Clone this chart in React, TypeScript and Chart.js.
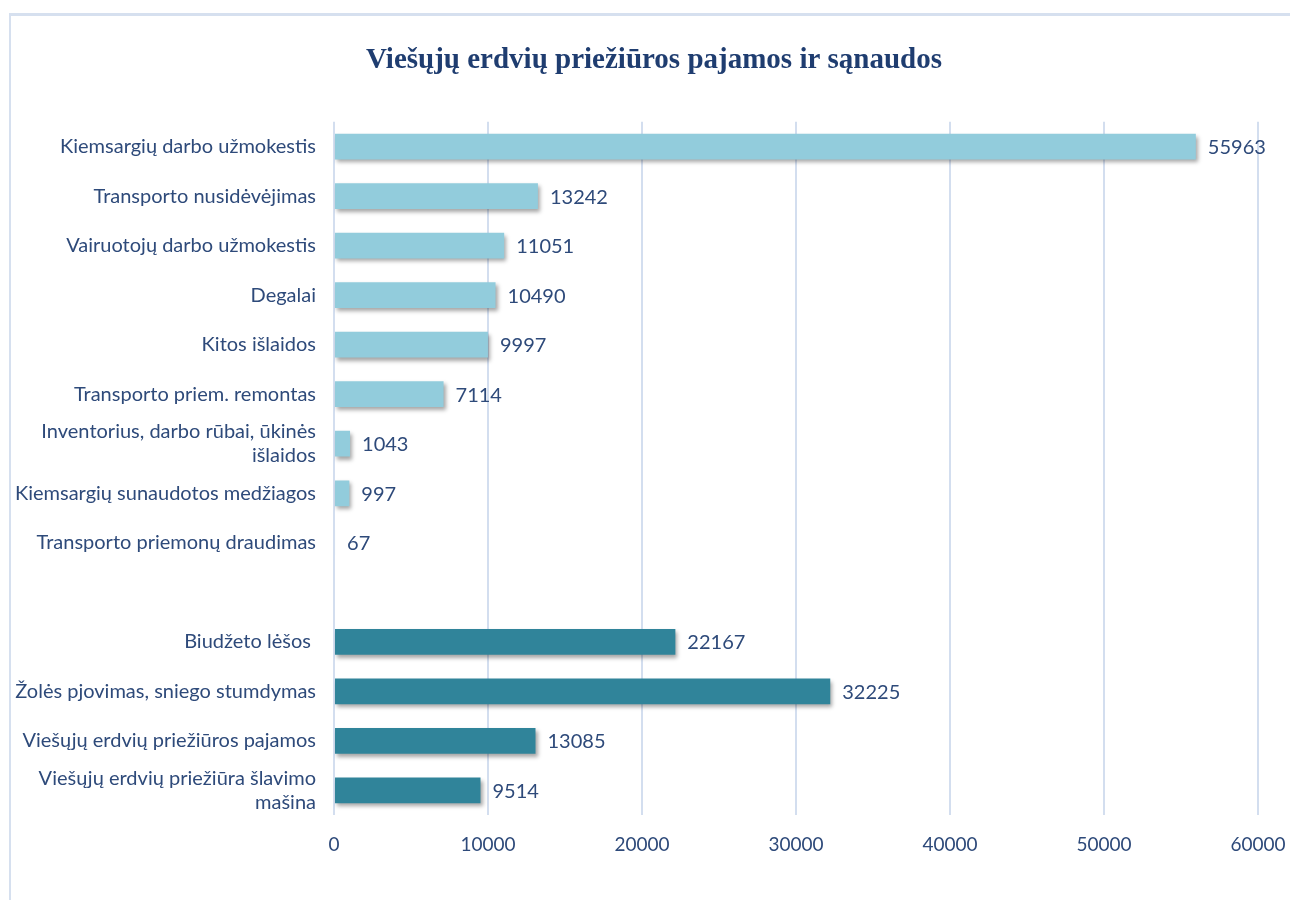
import React, { useEffect, useRef } from "react";
import { Chart, registerables } from "chart.js";

Chart.register(...registerables);

const categories: (string | string[])[] = [
  "Kiemsargių darbo užmokestis",
  "Transporto nusidėvėjimas",
  "Vairuotojų darbo užmokestis",
  "Degalai",
  "Kitos išlaidos",
  "Transporto priem. remontas",
  ["Inventorius, darbo rūbai, ūkinės", "išlaidos"],
  "Kiemsargių sunaudotos medžiagos",
  "Transporto priemonų draudimas",
  "",
  "Biudžeto lėšos ",
  "Žolės pjovimas, sniego stumdymas",
  "Viešųjų erdvių priežiūros pajamos",
  ["Viešųjų erdvių priežiūra šlavimo", "mašina"],
];

const values: (number | null)[] = [
  55963, 13242, 11051, 10490, 9997, 7114, 1043, 997, 67, null, 22167, 32225, 13085, 9514,
];

const expenseColor = "#92CCDC";
const incomeColor = "#30849A";
const barColors = values.map((_, i) => (i < 9 ? expenseColor : incomeColor));

const titleText = "Viešųjų erdvių priežiūros pajamos ir sąnaudos";
const xMin = 0;
const xMax = 60000;
const xStep = 10000;

const textColor = "#2E4A7A";
const titleColor = "#1F3D70";
const gridColor = "#D3DEEF";
const labelFont = "Lato, 'Open Sans', sans-serif";

export default function App() {
  const ref = useRef<HTMLCanvasElement | null>(null);

  useEffect(() => {
    if (!ref.current) return;

    const shadowPlugin = {
      id: "barShadow",
      beforeDatasetsDraw(chart: any) {
        const ctx = chart.ctx;
        ctx.save();
        ctx.shadowColor = "rgba(0,0,0,0.35)";
        ctx.shadowBlur = 4;
        ctx.shadowOffsetX = 2;
        ctx.shadowOffsetY = 3;
      },
      afterDatasetsDraw(chart: any) {
        chart.ctx.restore();
      },
    };

    const titleShift = {
      id: "titleShift",
      afterLayout(chart: any) {
        const tb = chart.titleBlock;
        if (tb) {
          tb.left = 50;
          tb.right = 1258;
        }
      },
    };

    const valueLabels = {
      id: "valueLabels",
      afterDraw(chart: any) {
        const ctx = chart.ctx;
        const meta = chart.getDatasetMeta(0);
        ctx.save();
        ctx.font = `20px ${labelFont}`;
        ctx.fillStyle = textColor;
        ctx.textAlign = "left";
        ctx.textBaseline = "middle";
        meta.data.forEach((bar: any, i: number) => {
          const v = values[i];
          if (v === null || v === undefined) return;
          ctx.fillText(String(v), bar.x + 12, bar.y + 1);
        });
        ctx.restore();
      },
    };

    const chart = new Chart(ref.current, {
      type: "bar",
      data: {
        labels: categories,
        datasets: [
          {
            data: values,
            backgroundColor: barColors,
            borderWidth: 0,
            categoryPercentage: 1,
            barPercentage: 0.52,
          },
        ],
      },
      options: {
        indexAxis: "y",
        animation: false,
        responsive: false,
        maintainAspectRatio: false,
        layout: { padding: { left: 2, right: 32, top: 0, bottom: 26 } },
        plugins: {
          legend: { display: false },
          tooltip: { enabled: false },
          title: {
            display: true,
            text: titleText,
            color: titleColor,
            font: { family: "'Liberation Serif', serif", size: 29, weight: "bold" },
            padding: { top: 43, bottom: 44 },
          },
        },
        scales: {
          x: {
            min: xMin,
            max: xMax,
            afterFit(scale: any) {
              scale.paddingLeft = 0;
              scale.paddingRight = 0;
            },
            ticks: {
              stepSize: xStep,
              color: textColor,
              font: { family: labelFont, size: 19 },
              padding: 18,
              callback: (v: any) => String(v),
            },
            grid: { color: gridColor, lineWidth: 2, drawTicks: false },
            border: { display: false },
          },
          y: {
            afterFit(scale: any) {
              scale.width = 332;
            },
            ticks: {
              color: textColor,
              font: { family: labelFont, size: 20 },
              padding: 18,
              autoSkip: false,
            },
            grid: { display: false, drawTicks: false },
            border: { display: false },
          },
        },
      },
      plugins: [shadowPlugin, titleShift, valueLabels],
    });

    return () => chart.destroy();
  }, []);

  return (
    <div
      style={{
        position: "fixed",
        left: 0,
        top: 0,
        width: 1290,
        height: 900,
        background: "#ffffff",
      }}
    >
      <div
        style={{
          position: "absolute",
          left: 9,
          top: 13,
          width: 1290,
          height: 900,
          borderLeft: "2px solid #D6E0EF",
          borderTop: "3px solid #D6E0EF",
        }}
      />
      <canvas ref={ref} width={1290} height={900} style={{ position: "absolute", left: 0, top: 0 }} />
    </div>
  );
}
